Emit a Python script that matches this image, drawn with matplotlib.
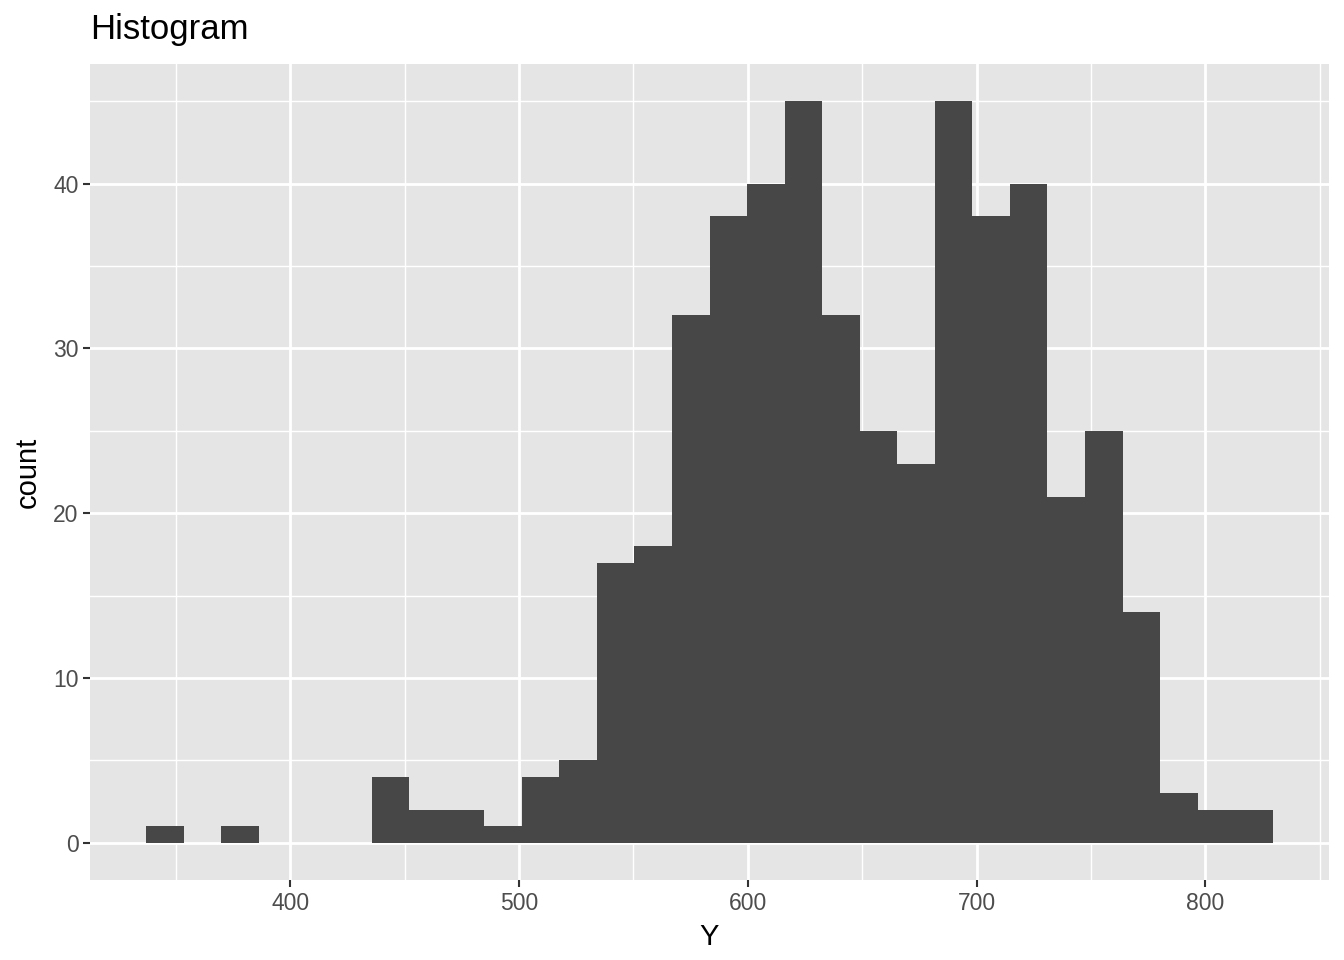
import matplotlib
matplotlib.use("Agg")
import matplotlib.pyplot as plt
from matplotlib.ticker import MultipleLocator

# histogram data (30 bins)
bin_start = 337.1
bin_width = 16.41
counts = [1, 0, 1, 0, 0, 0, 4, 2, 2, 1,
          4, 5, 17, 18, 32, 38, 40, 45, 32, 25,
          23, 45, 38, 40, 21, 25, 14, 3, 2, 2]
x_ticks = [400, 500, 600, 700, 800]
y_ticks = [0, 10, 20, 30, 40]

lefts = [bin_start + i * bin_width for i in range(len(counts))]

plt.rcParams["font.family"] = ["Liberation Sans", "DejaVu Sans"]

fig = plt.figure(figsize=(13.44, 9.6), dpi=100)
ax = fig.add_axes([90 / 1344, 1 - 880 / 960, (1329 - 90) / 1344, (880 - 64) / 960])
ax.set_facecolor("#E5E5E5")

ax.bar(lefts, counts, width=bin_width, align="edge", color="#474747", linewidth=0, zorder=3)

x_lo, x_hi = lefts[0], lefts[-1] + bin_width
pad = 0.05 * (x_hi - x_lo)
ax.set_xlim(x_lo - pad, x_hi + pad)
ax.set_ylim(-0.05 * max(counts), 1.05 * max(counts))

ax.set_xticks(x_ticks)
ax.set_yticks(y_ticks)
ax.xaxis.set_minor_locator(MultipleLocator(50))
ax.yaxis.set_minor_locator(MultipleLocator(5))
ax.grid(which="major", color="white", linewidth=2.0, zorder=1)
ax.grid(which="minor", color="white", linewidth=1.0, zorder=1)
ax.set_axisbelow(True)

for s in ax.spines.values():
    s.set_visible(False)

ax.tick_params(which="major", length=5.3, width=1.5, color="#333333",
               labelsize=16.5, labelcolor="#4D4D4D", pad=3)
ax.tick_params(which="minor", length=0)

ax.set_xlabel("Y", fontsize=21, color="black", labelpad=6)
ax.set_ylabel("count", fontsize=21, color="black", labelpad=8)
ax.set_title("Histogram", fontsize=25, loc="left", color="black", pad=18)

fig.savefig("out.png", dpi=100)
